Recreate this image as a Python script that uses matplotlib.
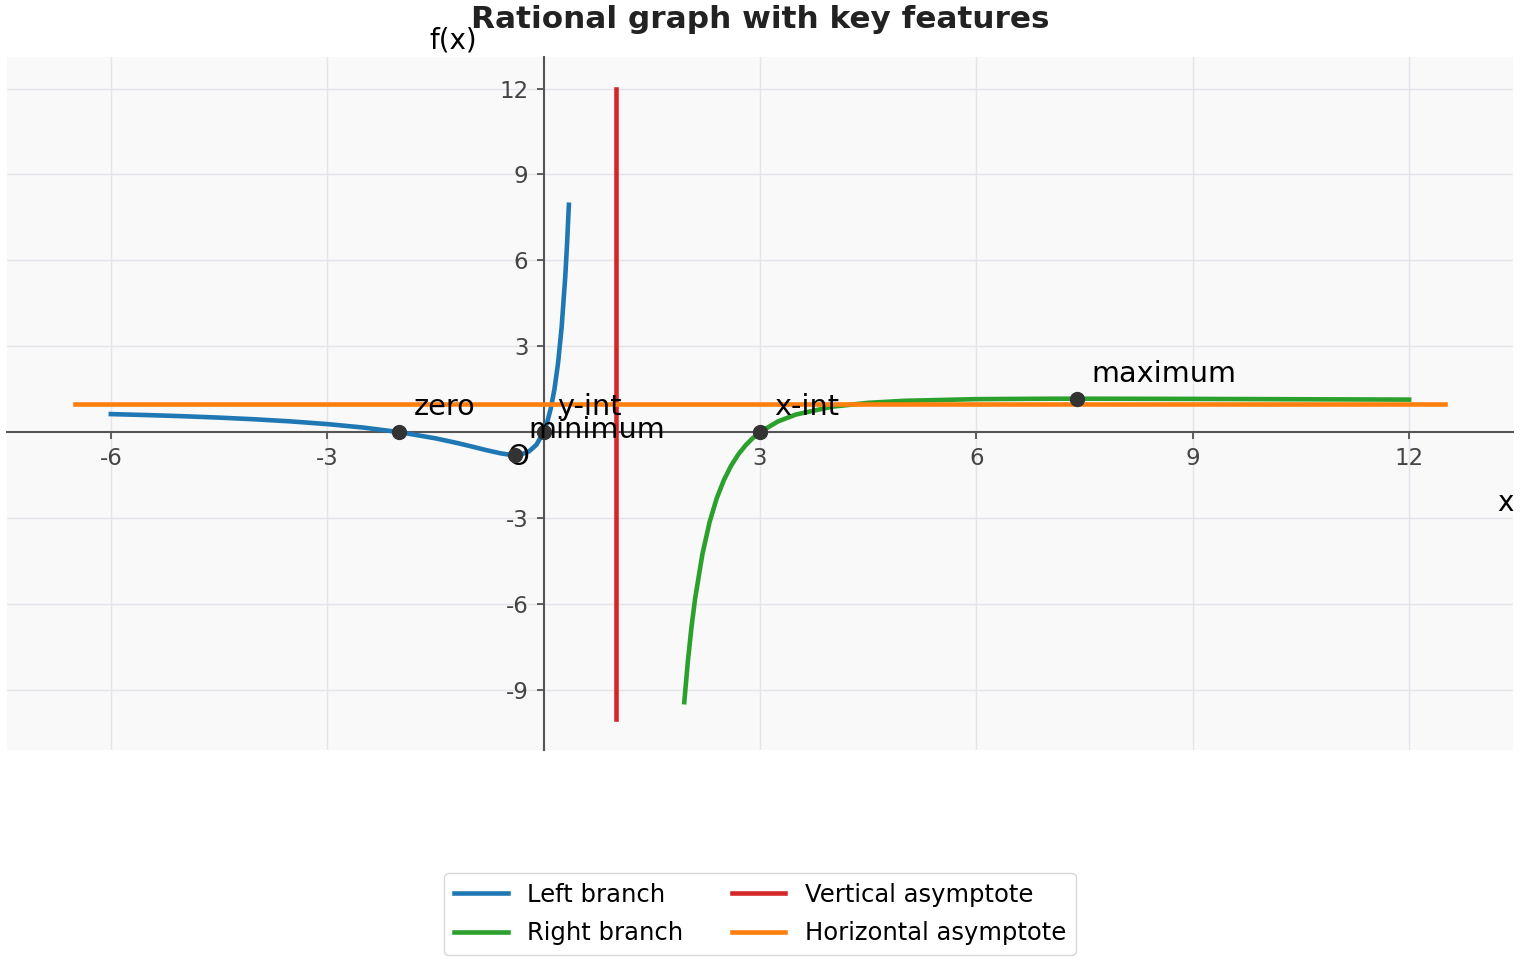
import matplotlib
matplotlib.use("Agg")
import matplotlib.pyplot as plt

# left branch (x < 1)
left_x = [-6, -5.5, -5, -4.5, -4, -3.5, -3, -2.5, -2, -1.5, -1.2, -1, -0.8, -0.6, -0.5,
          -0.4, -0.3, -0.2, -0.1, 0, 0.05, 0.1, 0.15, 0.2, 0.25, 0.3, 0.325, 0.35]
left_y = [0.63, 0.596, 0.556, 0.507, 0.448, 0.374, 0.281, 0.16, 0.0, -0.216, -0.379, -0.5,
          -0.626, -0.738, -0.778, -0.793, -0.766, -0.667, -0.443, 0.0, 0.353, 0.835, 1.497,
          2.406, 3.667, 5.431, 6.57, 7.94]

# right branch (x > 1)
right_x = [1.95, 2.0, 2.05, 2.1, 2.2, 2.3, 2.4, 2.5, 2.6, 2.7, 2.8, 2.9, 3.0, 3.25, 3.5,
           4, 4.5, 5, 6, 7, 7.4, 8, 9, 10, 11, 12]
right_y = [-9.43, -8.0, -6.81, -5.82, -4.28, -3.15, -2.31, -1.67, -1.17, -0.775, -0.461,
           -0.207, 0.0, 0.375, 0.616, 0.889, 1.023, 1.094, 1.152, 1.167, 1.168, 1.166,
           1.16, 1.152, 1.144, 1.136]

# asymptotes
va_x = [1, 1]
va_y = [-10, 12]
ha_x = [-6.5, 12.5]
ha_y = [1, 1]

# key points
pt_names = ["zero", "y-int", "minimum", "x-int", "maximum"]
pt_x = [-2, 0, -0.4, 3, 7.4]
pt_y = [0, 0, -0.79, 0, 1.17]

xticks = [-6, -3, 3, 6, 9, 12]
yticks = [-9, -6, -3, 3, 6, 9, 12]

fig = plt.figure(figsize=(15.2, 9.6), dpi=100)
ax = fig.add_axes([7 / 1520, 1 - 750 / 960, 1506 / 1520, 693 / 960])
ax.set_facecolor("#f9f9f9")

ax.plot(left_x, left_y, color="#1f77b4", lw=3.3, label="Left branch", zorder=3)
ax.plot(right_x, right_y, color="#2ca02c", lw=3.3, label="Right branch", zorder=3)
ax.plot(va_x, va_y, color="#d62728", lw=3.3, label="Vertical asymptote", zorder=3)
ax.plot(ha_x, ha_y, color="#ff7f0e", lw=3.3, label="Horizontal asymptote", zorder=3)

ax.plot(pt_x, pt_y, "o", color="#333333", ms=10, zorder=5)
for name, px, py in zip(pt_names, pt_x, pt_y):
    ax.annotate(name, (px, py), xytext=(10, 8), textcoords="offset points",
                fontsize=20.7, va="bottom", ha="left", zorder=6)
ax.annotate("O", (0, 0), xytext=(-18, -18), textcoords="offset points",
            fontsize=20, ha="center", va="center", zorder=4)

ax.set_xlim(-7.44, 13.44)
ax.set_ylim(-11.1, 13.1)

for side in ["top", "right"]:
    ax.spines[side].set_visible(False)
ax.spines["left"].set_position(("data", 0))
ax.spines["bottom"].set_position(("data", 0))
for side in ["left", "bottom"]:
    ax.spines[side].set_color("#555555")
    ax.spines[side].set_linewidth(1.5)

ax.set_xticks(xticks)
ax.set_xticklabels([str(t) for t in xticks])
ax.set_yticks(yticks)
ax.set_yticklabels([str(t) for t in yticks])
ax.tick_params(labelsize=16.5, colors="#444444", length=5, width=1.2, pad=6)
ax.grid(True, color="#e4e4ea", lw=1)
ax.set_axisbelow(True)

ax.set_xlabel("x", fontsize=20, ha="center", va="center")
ax.xaxis.set_label_coords(0.9947, 0.356)
ax.set_ylabel("f(x)", fontsize=20, rotation=0, ha="center", va="center")
ax.yaxis.set_label_coords(0.296, 1.0245)

fig.text(0.5, 1 - 20 / 960, "Rational graph with key features", fontsize=22.4,
         fontweight="bold", ha="center", va="center", color="#222222")

fig.legend(loc="lower center", bbox_to_anchor=(0.5, 5 / 960), borderaxespad=0, ncol=2,
           fontsize=17.5, handlelength=2.2, columnspacing=2.0, labelspacing=0.6)

fig.savefig("out.png", dpi=100)
